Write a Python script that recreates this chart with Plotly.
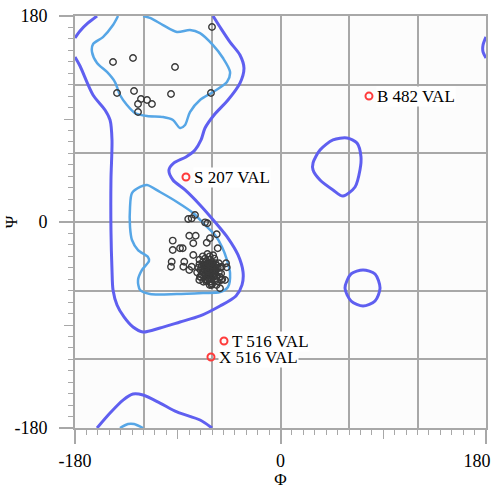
import plotly.graph_objects as go

# ---------------- data (degrees) ----------------
# Outer (allowed) contour pieces
outer_main_phi = [-180.0, -175.6, -164.2, -153.7, -149.3, -147.6, -148.5, -148.5, -147.6, -146.7, -143.2, -137.1,
                  -129.2, -120.4, -105.5, -88.0, -70.5, -53.0, -39.0, -33.7, -32.8, -37.2, -46.0, -57.4, -70.5,
                  -83.6, -94.2, -97.7, -93.3, -82.8, -74.9, -69.6, -66.1, -58.2, -46.0, -35.5, -32.0, -35.5,
                  -44.2, -53.0, -59.1]
outer_main_psi = [144.2, 136.3, 111.0, 97.9, 89.1, 71.7, 36.7, -7.0, -41.9, -59.4, -72.5, -83.0,
                  -91.8, -96.1, -92.6, -87.4, -82.1, -73.4, -64.6, -55.0, -43.7, -28.8, -14.0, 0.0, 14.9,
                  28.0, 36.7, 45.4, 51.6, 56.8, 62.9, 71.7, 82.1, 93.5, 106.6, 121.4, 134.5, 145.9,
                  157.2, 170.4, 180.0]
outer_topleft_phi = [-160.7, -168.6, -175.6, -180.0]
outer_topleft_psi = [180.0, 173.9, 166.9, 160.8]
outer_bottom_phi = [-160.7, -149.3, -137.9, -129.2, -120.4, -105.5, -90.7, -70.5, -60.0]
outer_bottom_psi = [-180.0, -166.9, -155.6, -150.3, -151.2, -158.2, -166.0, -173.0, -180.0]
outer_rightedge_phi = [180.0, 177.4, 177.4, 180.0]
outer_rightedge_psi = [161.7, 154.7, 148.6, 143.4]
outer_lalpha_phi = [28.5, 34.6, 46.0, 58.2, 67.0, 70.5, 69.6, 65.3, 54.7, 46.0, 34.6, 28.5, 28.5]
outer_lalpha_psi = [51.6, 62.9, 71.7, 73.4, 69.0, 56.8, 45.4, 30.6, 22.7, 28.0, 36.7, 45.4, 51.6]
outer_ring_phi = [72.3, 82.8, 87.2, 82.8, 72.3, 61.8, 56.5, 61.8, 72.3]
outer_ring_psi = [-41.9, -45.4, -57.7, -69.0, -73.4, -69.0, -57.7, -45.4, -41.9]

# Inner (favoured) contour pieces
inner_beta_phi = [-142.3, -146.7, -155.5, -164.2, -165.1, -160.7, -152.0, -145.0, -140.6, -134.5, -127.4,
                  -116.9, -102.9, -94.2, -88.0, -83.6, -79.3, -70.5, -59.1, -46.9, -44.2, -50.4, -59.1,
                  -70.5, -79.3, -90.7, -102.9, -114.3, -120.4]
inner_beta_psi = [180.0, 172.1, 161.6, 155.5, 148.6, 139.0, 131.1, 122.3, 111.0, 102.2, 95.2,
                  92.6, 91.7, 89.1, 82.1, 84.8, 96.1, 106.6, 113.6, 122.3, 131.1, 143.3, 154.6,
                  165.1, 167.8, 166.0, 172.1, 178.3, 180.0]
inner_bottom_phi = [-140.6, -133.6, -128.3, -120.4]
inner_bottom_psi = [-180.0, -176.5, -176.5, -180.0]
inner_alpha_phi = [-123.0, -130.1, -131.8, -131.8, -130.1, -124.8, -116.1, -115.2, -121.3, -124.8, -123.0,
                   -114.3, -90.7, -67.9, -53.0, -46.0, -44.2, -46.9, -51.2, -57.4, -66.1, -76.6, -90.7,
                   -105.5, -116.9, -123.0]
inner_alpha_psi = [30.6, 25.3, 13.1, -4.4, -15.7, -24.5, -30.6, -34.1, -41.9, -50.7, -59.4,
                   -62.9, -62.9, -62.0, -61.2, -56.8, -44.6, -33.2, -21.8, -11.4, -2.6, 7.9, 17.5,
                   26.2, 32.3, 30.6]

# Residues (phi, psi)
res_phi = [-60.0, -146.7, -129.2, -92.4, -143.2, -128.3, -122.2, -116.9, -112.6, -124.8, -124.8, -95.9, -60.9,
           -74.9, -77.8, -80.8, -66.1, -64.1, -79.9, -74.3, -61.8, -55.9, -94.4, -76.4, -64.6, -55.0, -94.4,
           -88.0, -85.7, -95.3, -95.9, -84.3, -85.1, -76.4, -47.7, -48.6, -51.5, -71.1, -67.6, -53.0, -60.3,
           -77.8, -79.9, -51.9, -47.1, -70.5,
           -62, -64, -60, -66, -58, -63, -61, -65, -59, -67,
           -57, -62, -64, -60, -68, -56, -63, -66, -58, -61,
           -69, -55, -65, -70, -54, -59, -67, -62, -57, -64,
           -71, -53, -60, -66, -61, -63, -58, -65, -62, -60,
           -68, -56, -64, -59, -67, -63, -57, -61, -55, -69,
           -52, -72, -66, -58, -62, -54, -70, -65, -60, -56,
           -73, -51, -68, -64, -59, -53, -71, -66, -62, -57,
           -63, -61, -59, -65, -67, -60, -64, -58, -62, -66]
res_psi = [170.4, 139.8, 143.3, 135.4, 112.7, 114.5, 107.5, 106.6, 103.1, 103.1, 96.1, 111.8, 112.7,
           6.1, 3.2, 2.6, -0.3, -1.1, -12.0, -12.0, -14.2, -10.7, -16.3, -18.6, -18.1, -23.0, -24.5,
           -23.0, -23.0, -34.7, -39.1, -34.7, -39.1, -28.8, -36.1, -50.7, -39.1, -50.7, -52.2, -57.9, -55.0,
           -39.1, -41.9, -50.7, -39.6, -47.8,
           -41, -40, -43, -38, -45, -44, -38, -43, -40, -41,
           -42, -47, -36, -35, -44, -47, -49, -46, -50, -52,
           -39, -40, -34, -42, -44, -37, -48, -33, -36, -51,
           -37, -48, -46, -42, -44, -39, -41, -40, -42, -40,
           -35, -38, -45, -48, -37, -36, -51, -49, -52, -46,
           -45, -40, -32, -32, -30, -36, -48, -52, -54, -55,
           -44, -50, -30, -28, -29, -40, -33, -50, -55, -45,
           -43, -41, -43, -37, -44, -38, -47, -47, -37, -39]

# Outliers
out_phi = [77.5, -82.8, -49.5, -60.9]
out_psi = [110.0, 39.3, -104.0, -118.0]
out_labels = ["B 482 VAL", "S 207 VAL", "T 516 VAL", "X 516 VAL"]

grid_vals = [-180, -120, -60, 0, 60, 120, 180]
y_label_vals = [-180, 0, 180]
y_label_text = ["-180", "0", "180"]
x_label_vals = [-180, 0]
x_label_text = ["-180", "0"]
x_end_val = [180]
x_end_text = ["180"]
half_vals = [-90, 90]

# ---------------- styles ----------------
DARK = "#5f5ff0"
LIGHT = "#56a6e6"
GRID = "#a8a8a8"
FONT = "Liberation Serif"

fig = go.Figure()

def line(xs, ys, color, width):
    fig.add_trace(go.Scatter(x=xs, y=ys, mode="lines", line=dict(color=color, width=width, shape="spline", smoothing=0.8),
                             hoverinfo="skip", showlegend=False))

line(outer_main_phi, outer_main_psi, DARK, 3)
line(outer_topleft_phi, outer_topleft_psi, DARK, 3)
line(outer_bottom_phi, outer_bottom_psi, DARK, 3)
line(outer_rightedge_phi, outer_rightedge_psi, DARK, 3)
line(outer_lalpha_phi, outer_lalpha_psi, DARK, 3)
line(outer_ring_phi, outer_ring_psi, DARK, 3)
line(inner_beta_phi, inner_beta_psi, LIGHT, 2.5)
line(inner_bottom_phi, inner_bottom_psi, LIGHT, 2.5)
line(inner_alpha_phi, inner_alpha_psi, LIGHT, 2.5)

fig.add_trace(go.Scatter(x=res_phi, y=res_psi, mode="markers",
                         marker=dict(symbol="circle-open", size=6.5, color="#3a3a3a", line=dict(width=1.4)),
                         showlegend=False))
fig.add_trace(go.Scatter(x=out_phi, y=out_psi, mode="markers",
                         marker=dict(symbol="circle-open", size=7, color="#ff3b3b", line=dict(width=2)),
                         showlegend=False))

for px, py, t in zip(out_phi, out_psi, out_labels):
    fig.add_annotation(x=px, y=py, text=t, showarrow=False, xanchor="left", yanchor="middle", xshift=7,
                       font=dict(family=FONT, size=17, color="black"), bgcolor="white", borderpad=0)

# empty traces to create overlay axes
fig.add_trace(go.Scatter(x=[], y=[], xaxis="x2", yaxis="y2", showlegend=False))
fig.add_trace(go.Scatter(x=[], y=[], xaxis="x3", yaxis="y3", showlegend=False))
fig.add_trace(go.Scatter(x=[], y=[], xaxis="x4", yaxis="y2", showlegend=False))

rng = [-180, 180]
tickfont = dict(family=FONT, size=18, color="black")
titlefont = dict(family=FONT, size=17, color="black")
common = dict(range=rng, zeroline=False, automargin=False)
fig.update_layout(
    width=495, height=489,
    margin=dict(l=75, r=9, t=16, b=61),
    paper_bgcolor="white", plot_bgcolor="#fcfcfc",
    xaxis=dict(**common, tickvals=grid_vals, showticklabels=False, ticks="", showgrid=True,
               gridcolor=GRID, gridwidth=1.5, showline=True, mirror=True,
               linecolor=GRID, linewidth=1.5,
               minor=dict(dtick=10, tick0=0, ticks="outside", ticklen=5, tickcolor=GRID, tickwidth=1, showgrid=False)),
    yaxis=dict(**common, tickvals=grid_vals, showticklabels=False, ticks="", showgrid=True,
               gridcolor=GRID, gridwidth=1.5, showline=True, mirror=True,
               linecolor=GRID, linewidth=1.5,
               minor=dict(dtick=10, tick0=0, ticks="outside", ticklen=5, tickcolor=GRID, tickwidth=1, showgrid=False)),
    xaxis2=dict(**common, overlaying="x", anchor="y", side="bottom", tickvals=x_label_vals, ticktext=x_label_text,
                ticks="outside", ticklen=15, tickcolor=GRID, tickwidth=1.5, showgrid=False,
                tickfont=tickfont, ticklabelstandoff=1),
    xaxis4=dict(**common, overlaying="x", anchor="y", side="bottom", tickvals=x_end_val, ticktext=x_end_text,
                ticks="outside", ticklen=15, tickcolor=GRID, tickwidth=1.5, showgrid=False,
                tickfont=tickfont, ticklabelstandoff=1, ticklabelshift=-9),
    yaxis2=dict(**common, overlaying="y", anchor="x", side="left", tickvals=y_label_vals, ticktext=y_label_text,
                ticks="outside", ticklen=15, tickcolor=GRID, tickwidth=1.5, showgrid=False,
                tickfont=tickfont, ticklabelstandoff=8),
    xaxis3=dict(**common, overlaying="x", anchor="y", side="bottom", tickvals=half_vals,
                ticks="outside", ticklen=10, tickcolor=GRID, tickwidth=1, showgrid=False,
                showticklabels=False,
                title=dict(text="Φ", font=titlefont, standoff=40)),
    yaxis3=dict(**common, overlaying="y", anchor="x", side="left", tickvals=half_vals,
                ticks="outside", ticklen=10, tickcolor=GRID, tickwidth=1, showgrid=False,
                showticklabels=False,
                title=dict(text="Ψ", font=titlefont, standoff=42)),
)

fig.write_html("out.html", config={"displayModeBar": False},
               post_script="document.body.style.margin='0px';")
